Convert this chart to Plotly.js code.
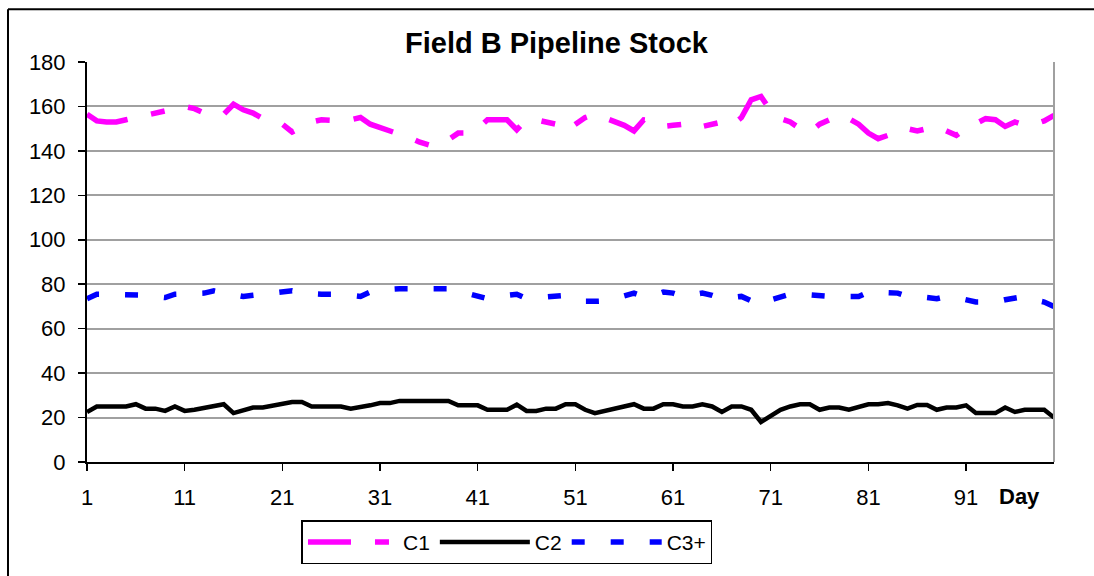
<!DOCTYPE html>
<html>
<head>
<meta charset="utf-8">
<script src="https://cdn.plot.ly/plotly-3.0.1.min.js"></script>
<style>
  html, body { margin: 0; padding: 0; background: #ffffff; }
  #chart { width: 1094px; height: 576px; }
</style>
</head>
<body>
<div id="chart"></div>
<script>
const chartTitle = "Field B Pipeline Stock";
const xAxisLabel = "Day";
const seriesNames = ["C1", "C2", "C3+"];
const xTickVals = [1, 11, 21, 31, 41, 51, 61, 71, 81, 91];
const yTickVals = [0, 20, 40, 60, 80, 100, 120, 140, 160, 180];

const days = [
  1, 2, 3, 4, 5, 6, 7, 8, 9, 10, 11, 12, 13, 14, 15, 16, 17, 18, 19, 20,
  21, 22, 23, 24, 25, 26, 27, 28, 29, 30, 31, 32, 33, 34, 35, 36, 37, 38, 39, 40,
  41, 42, 43, 44, 45, 46, 47, 48, 49, 50, 51, 52, 53, 54, 55, 56, 57, 58, 59, 60,
  61, 62, 63, 64, 65, 66, 67, 68, 69, 70, 71, 72, 73, 74, 75, 76, 77, 78, 79, 80,
  81, 82, 83, 84, 85, 86, 87, 88, 89, 90, 91, 92, 93, 94, 95, 96, 97, 98, 99, 100
];

const c1 = [
  156.5, 153.5, 153, 153, 154, 155, 156, 157, 158.5, 159.5,
  160, 159, 157, 156, 156.5, 161, 158.5, 157, 154.5, 153,
  152, 148.5, 151, 153, 154, 153.5, 153.5, 154, 155, 152,
  150.5, 149.5, 148, 146, 144, 142.7, 142.7, 145, 148, 148,
  150, 154, 154, 154, 149.5, 154, 154, 153, 152, 149,
  152, 155, 156.5, 155, 153, 151.5, 149, 154, 153.5, 151,
  151.5, 152, 150, 151, 152.5, 153, 151.5, 155, 163, 164.5,
  158, 154.5, 153, 150, 148.5, 152, 154, 156, 154.5, 152,
  148, 145.5, 147, 149.5, 150, 149, 150, 151, 149, 147,
  150, 152.5, 154.5, 154, 151, 153, 151.5, 152, 153.5, 156
];

const c2 = [
  22.5, 25, 25, 25, 25, 26, 24, 24, 23, 25,
  23, 23.5, 24.5, 25.5, 26, 22, 23, 24.5, 24.5, 25.5,
  26, 27, 27, 25, 25, 25, 25, 24, 24.5, 25.5,
  26.5, 26.5, 27.5, 27.5, 27.5, 27.5, 27.5, 27.5, 25.5, 25.5,
  25.5, 23.5, 23.5, 23.5, 25.8, 23, 23, 24, 24, 26,
  26, 23.5, 22, 23, 24, 25, 26, 24, 24, 26,
  26, 25, 25, 26, 25, 22.5, 25, 25, 23.5, 18,
  21, 23.5, 25, 26, 26, 23.5, 24.5, 24.5, 23.5, 24.5,
  26, 26, 26.5, 25.5, 24, 25.7, 25.7, 23.5, 24.5, 24.5,
  25.5, 22, 22, 22, 24.5, 22.5, 23.5, 23.5, 23.5, 20
];

const c3 = [
  73.5, 75.5, 75.5, 75.5, 75.5, 75.5, 75, 74.5, 74, 75.5,
  75.5, 75.5, 76, 77, 76, 75, 74.5, 75, 75.5, 76,
  76.5, 77, 76, 75.5, 75.5, 75.5, 75.5, 75, 74.5, 76.5,
  77.5, 78, 78, 78, 78, 78, 78, 78, 77, 76,
  74.5, 73.5, 74.5, 75, 75.5, 73.5, 74, 74.5, 75, 75,
  74, 72.3, 72.3, 72.5, 73.5, 75, 76, 74.5, 75, 76.5,
  76, 74.5, 75, 76, 75, 73.5, 74, 74.5, 72.5, 70.5,
  73, 74, 75.5, 75.5, 75, 74.5, 74.5, 74.5, 74.5, 74.5,
  76.5, 76.5, 76, 76, 74.5, 74.5, 74, 73.5, 74.5, 74,
  73, 72, 72, 72, 73, 74, 74.5, 73, 72, 70
];

const FONT = "Liberation Sans, Arial, sans-serif";

const traces = [
  {
    x: days, y: c1, name: seriesNames[0], type: "scatter", mode: "lines",
    line: { color: "#ff00ff", width: 5.5, dash: "43px,24px,14px,24px,14px,24px" }
  },
  {
    x: days, y: c2, name: seriesNames[1], type: "scatter", mode: "lines",
    line: { color: "#000000", width: 4.5 }
  },
  {
    x: days, y: c3, name: seriesNames[2], type: "scatter", mode: "lines",
    line: { color: "#0000ff", width: 5.5, dash: "13px,26px" }
  }
];

const layout = {
  width: 1094, height: 576,
  paper_bgcolor: "#ffffff", plot_bgcolor: "#ffffff",
  margin: { l: 87, r: 40, t: 62, b: 111, pad: 0 },
  showlegend: true,
  title: {
    text: "<b>" + chartTitle + "</b>",
    font: { family: FONT, size: 29, color: "#000000" },
    x: 0.4855, xanchor: "center", xref: "paper",
    y: 0.925, yanchor: "middle"
  },
  xaxis: {
    range: [1, 100],
    tickmode: "array", tickvals: xTickVals, ticktext: xTickVals.map(String),
    ticks: "outside", ticklen: 7, tickwidth: 1.5, tickcolor: "#000000",
    showgrid: false, zeroline: false,
    showline: true, linecolor: "#000000", linewidth: 2, mirror: false,
    tickfont: { family: FONT, size: 22, color: "#000000" },
    ticklabelstandoff: 8
  },
  yaxis: {
    range: [0, 180],
    tickmode: "array", tickvals: yTickVals, ticktext: yTickVals.map(String),
    ticks: "outside", ticklen: 7, tickwidth: 1.5, tickcolor: "#000000",
    showgrid: true, gridcolor: "#a0a0a0", gridwidth: 2,
    zeroline: false,
    showline: true, linecolor: "#000000", linewidth: 2,
    tickfont: { family: FONT, size: 22, color: "#000000" },
    ticklabelstandoff: 8
  },
  legend: {
    orientation: "h",
    x: 0.2218, xanchor: "left", xref: "paper",
    y: -0.146, yanchor: "top", yref: "paper",
    bgcolor: "#ffffff", bordercolor: "#000000", borderwidth: 1.5,
    font: { family: FONT, size: 21, color: "#000000" },
    itemwidth: 90, tracegroupgap: 0, itemclick: false
  },
  annotations: [
    {
      text: "<b>" + xAxisLabel + "</b>",
      xref: "paper", yref: "paper", x: 0.9645, y: -0.087,
      xanchor: "center", yanchor: "middle", showarrow: false,
      font: { family: FONT, size: 22, color: "#000000" }
    }
  ],
  shapes: [
    { type: "line", xref: "paper", yref: "paper", x0: 1, x1: 1, y0: 0, y1: 1,
      line: { color: "#a0a0a0", width: 2 } },
    { type: "line", xref: "paper", yref: "paper", x0: -0.0817, x1: -0.0817, y0: -0.5, y1: 1.1316,
      line: { color: "#000000", width: 2 } },
    { type: "line", xref: "paper", yref: "paper", x0: -0.0817, x1: 1.1, y0: 1.1316, y1: 1.1316,
      line: { color: "#000000", width: 2 } }
  ]
};

Plotly.newPlot("chart", traces, layout, { displayModeBar: false, staticPlot: true });
</script>
</body>
</html>
